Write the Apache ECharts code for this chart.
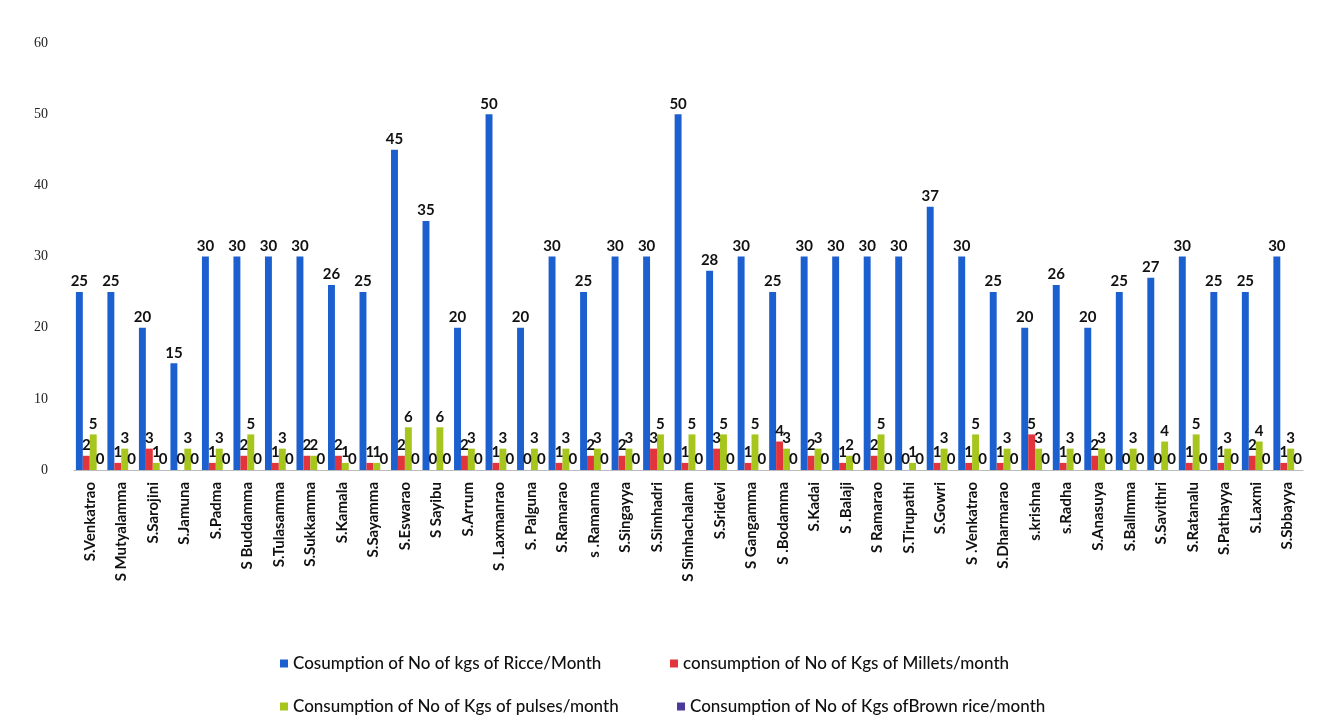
<!DOCTYPE html>
<html><head><meta charset="utf-8">
<script src="https://cdn.jsdelivr.net/npm/echarts@6/dist/echarts.min.js"></script>
<style>html,body{margin:0;padding:0;background:#fff;}#c{width:1330px;height:727px;}</style>
</head><body><div id="c"></div>
<script>
const categories = ["S.Venkatrao","S Mutyalamma","S.Sarojini","S.Jamuna","S.Padma","S Buddamma","S.Tulasamma","S.Sukkamma","S.Kamala","S.Sayamma","S.Eswarao","S Sayibu","S.Arrum","S .Laxmanrao","S. Palguna","S.Ramarao","s .Ramanna","S.Singayya","S.Simhadri","S Simhachalam","S.Sridevi","S Gangamma","S .Bodamma","S.Kadai","S .Balaji","S Ramarao","S.Tirupathi","S.Gowri","S .Venkatrao","S.Dharmarao","s.krishna","s.Radha","S.Anasuya","S.Ballmma","S.Savithri","S.Ratanalu","S.Pathayya","S.Laxmi","S.Sbbayya"];
const rice = [25,25,20,15,30,30,30,30,26,25,45,35,20,50,20,30,25,30,30,50,28,30,25,30,30,30,30,37,30,25,20,26,20,25,27,30,25,25,30];
const millets = [2,1,3,0,1,2,1,2,2,1,2,0,2,1,0,1,2,2,3,1,3,1,4,2,1,2,0,1,1,1,5,1,2,0,0,1,1,2,1];
const pulses = [5,3,1,3,3,5,3,2,1,1,6,6,3,3,3,3,3,3,5,5,5,5,3,3,2,5,1,3,5,3,3,3,3,3,4,5,3,4,3];
const brownRice = [0,0,0,0,0,0,0,0,0,0,0,0,0,0,0,0,0,0,0,0,0,0,0,0,0,0,0,0,0,0,0,0,0,0,0,0,0,0,0];
const seriesNames = ["Cosumption of No of kgs of Ricce/Month","consumption of No of Kgs of Millets/month","Consumption of No of Kgs of pulses/month","Consumption of No of Kgs ofBrown rice/month"];
const yTicks = [0,10,20,30,40,50,60];

const colors = ['#1c5fcf','#e2343c','#a6c61e','#4b3a9c'];
const lbl = {show:true, position:'top', color:'#111', fontSize:15, fontWeight:'bold', fontFamily:'Lato', distance:3};
const chart = echarts.init(document.getElementById('c'));
const mkLegend = (name, left, top) => ({
  data:[name], left, top, itemWidth:8, itemHeight:8, icon:'rect', itemGap:5,
  textStyle:{fontFamily:'Lato', fontSize:17, fontWeight:500, color:'#111'}
});
chart.setOption({
  backgroundColor:'#fff',
  color: colors,
  animation:false,
  grid:{left:74, right:27, top:43, bottom:257},
  legend:[
    mkLegend(seriesNames[0], 275, 650),
    mkLegend(seriesNames[1], 665, 650),
    mkLegend(seriesNames[2], 275, 693),
    mkLegend(seriesNames[3], 672, 693)
  ],
  xAxis:{type:'category', data:categories,
    axisTick:{show:false},
    axisLine:{lineStyle:{color:'#bbb'}},
    axisLabel:{rotate:90, interval:0, fontFamily:'Lato', fontSize:15, fontWeight:'bold', color:'#111', margin:12}},
  yAxis:{type:'value', min:yTicks[0], max:yTicks[yTicks.length-1], interval:10,
    splitLine:{show:false},
    axisLine:{show:false}, axisTick:{show:false},
    axisLabel:{fontFamily:'Liberation Serif', fontSize:14, color:'#222', margin:26}},
  series:[
    {name:seriesNames[0], type:'bar', data:rice, barGap:'0%', barCategoryGap:'12%', label:lbl},
    {name:seriesNames[1], type:'bar', data:millets, label:lbl},
    {name:seriesNames[2], type:'bar', data:pulses, label:lbl},
    {name:seriesNames[3], type:'bar', data:brownRice, label:lbl}
  ]
});
</script></body></html>
